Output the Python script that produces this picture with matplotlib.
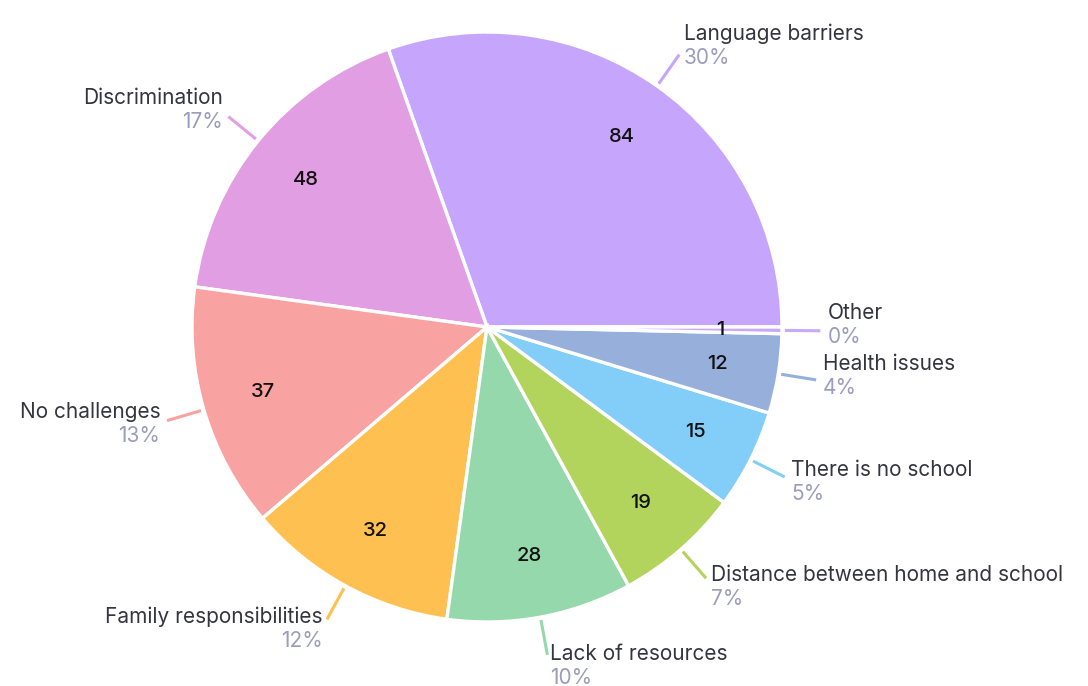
import numpy as np
import matplotlib.pyplot as plt

labels = ['Language barriers', 'Discrimination', 'No challenges', 'Family responsibilities',
          'Lack of resources', 'Distance between home and school', 'There is no school',
          'Health issues', 'Other']
counts = [84, 48, 37, 32, 28, 19, 15, 12, 1]
colors = ['#C6A6FD', '#E29EE3', '#F9A2A2', '#FEC050', '#95D8AB',
          '#B2D35C', '#83CDF9', '#97AFDB', '#C9A8F8']

plt.rcParams['font.family'] = ['Inter', 'DejaVu Sans']

W, H = 1088, 686
cx, cy, R = 487, 327, 295   # pie centre and radius in pixels
px = 1.0 / R                # one pixel in data units

fig = plt.figure(figsize=(W / 100, H / 100), dpi=100)
ax = fig.add_axes([0, 0, 1, 1])

wedges, _ = ax.pie(counts, colors=colors, startangle=0, counterclock=True,
                   radius=1.0, center=(0, 0),
                   wedgeprops=dict(edgecolor='white', linewidth=2.4))

total = sum(counts)
for w, lab, n, col in zip(wedges, labels, counts, colors):
    ang = np.deg2rad((w.theta1 + w.theta2) / 2)
    c, s = np.cos(ang), np.sin(ang)
    # value inside the slice
    ax.text(0.79 * c, 0.79 * s, str(n), ha='center', va='center',
            fontsize=14.5, fontweight='medium', color='#111111')
    # leader line
    r0, r1 = 1.01, 1.13
    ax.plot([r0 * c, r1 * c], [r0 * s, r1 * s], color=col, lw=2.2,
            solid_capstyle='butt')
    ex, ey = r1 * c, r1 * s
    gap = (2 + 5 * abs(c)) * px
    ha = 'left' if c >= 0 else 'right'
    tx = ex + gap if c >= 0 else ex - gap
    yc = ey + (11 * s + (6 if abs(s) < 0.2 else 0)) * px
    pct = round(n / total * 100)
    ax.text(tx, yc + 12 * px, lab, ha=ha, va='center', fontsize=15,
            color='#353540')
    ax.text(tx, yc - 12 * px, f'{pct}%', ha=ha, va='center', fontsize=15,
            color='#9C9CBC')

ax.set_xlim(-cx * px, (W - cx) * px)
ax.set_ylim(-(H - cy) * px, cy * px)
ax.set_aspect('auto')
ax.axis('off')

fig.savefig('out.png', dpi=100, facecolor='white')
